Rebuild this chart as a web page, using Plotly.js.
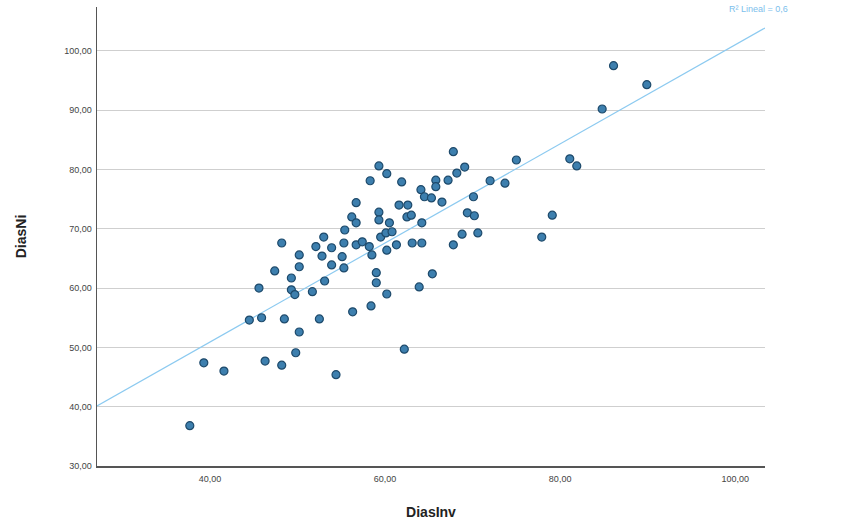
<!DOCTYPE html>
<html>
<head>
<meta charset="utf-8">
<script src="https://cdn.plot.ly/plotly-3.0.1.min.js"></script>
<style>html,body{margin:0;padding:0;background:#fff;}#chart{width:854px;height:523px;}</style>
</head>
<body>
<div id="chart"></div>
<script>
// DiasInv (x) and DiasNi (y) values
const diasInv = [37.7,39.3,41.6,44.5,45.9,46.3,48.2,49.8,50.2,48.5,52.5,54.4,45.6,47.4,48.2,49.3,49.3,49.7,51.7,50.2,
  50.2,52.1,52.8,53.1,53.0,53.9,53.9,55.1,55.3,55.3,55.4,56.2,56.7,56.7,57.4,56.7,56.3,58.4,58.2,58.5,
  59.0,59.0,58.3,59.3,60.2,61.9,59.3,59.3,60.5,59.5,60.1,60.8,61.3,60.2,60.2,61.6,62.6,62.5,63.0,64.2,
  63.1,64.2,64.1,64.5,65.3,66.5,65.8,65.8,67.2,68.2,69.1,67.8,70.1,69.4,70.2,68.8,70.6,67.8,65.4,63.9,
  62.2,72.0,73.7,75.0,79.1,77.9,81.1,81.9,84.8,86.1,89.9];
const diasNi = [36.8,47.4,46.0,54.6,55.0,47.7,47.0,49.1,52.6,54.8,54.8,45.4,60.0,62.9,67.6,61.7,59.7,58.9,59.4,65.6,
  63.6,67.0,65.4,61.2,68.6,66.8,63.9,65.3,63.4,67.6,69.8,72.0,71.0,67.3,67.8,74.4,56.0,57.0,67.0,65.6,
  62.6,60.9,78.1,80.6,79.3,77.9,72.8,71.5,71.0,68.6,69.3,69.5,67.3,66.4,59.0,74.0,74.0,72.0,72.3,71.0,
  67.6,67.6,76.6,75.4,75.2,74.5,78.2,77.1,78.2,79.4,80.4,83.0,75.4,72.7,72.2,69.1,69.3,67.3,62.4,60.2,
  49.7,78.1,77.7,81.6,72.3,68.6,81.8,80.6,90.2,97.5,94.3];

const yTickVals = [30,40,50,60,70,80,90,100];
const yTickText = ["30,00","40,00","50,00","60,00","70,00","80,00","90,00","100,00"];
const xTickVals = [40,60,80,100];
const xTickText = ["40,00","60,00","80,00","100,00"];
const xRange = [27.1, 103.4];
const yRange = [30, 107.4];

// least-squares fit line computed from the data
const n = diasInv.length;
const mx = diasInv.reduce((a,b)=>a+b,0)/n;
const my = diasNi.reduce((a,b)=>a+b,0)/n;
let sxy = 0, sxx = 0;
for (let i=0;i<n;i++){ sxy += (diasInv[i]-mx)*(diasNi[i]-my); sxx += (diasInv[i]-mx)**2; }
const slope = sxy/sxx, intercept = my - slope*mx;
const fitX = [xRange[0], xRange[1]];
const fitY = fitX.map(v => intercept + slope*v);

const traces = [
  {x: fitX, y: fitY, mode: 'lines', type: 'scatter', line: {color: '#8ccaf0', width: 1.2}, hoverinfo: 'skip', cliponaxis: false},
  {x: diasInv, y: diasNi, mode: 'markers', type: 'scatter',
   marker: {size: 8, color: '#3d7fae', line: {color: '#1e4a6b', width: 1.2}}}
];

const layout = {
  width: 854, height: 523,
  margin: {l: 97, r: 89, t: 7, b: 57},
  paper_bgcolor: '#fff', plot_bgcolor: '#fff',
  showlegend: false,
  font: {family: 'Liberation Sans, Arial, sans-serif', color: '#333'},
  xaxis: {range: xRange, tickvals: xTickVals, ticktext: xTickText, showgrid: false, zeroline: false, automargin: false,
    showline: true, linecolor: '#555', linewidth: 1.5, ticks: '', tickfont: {size: 9, color: '#444'}, ticklabelstandoff: 4,
    title: {text: 'DiasInv', font: {size: 14, color: '#222', weight: 'bold'}, standoff: 24}},
  yaxis: {range: yRange, tickvals: yTickVals, ticktext: yTickText, showgrid: true, gridcolor: '#cfcfcf', gridwidth: 1,
    zeroline: false, showline: true, linecolor: '#555', linewidth: 1.5, ticks: '', tickfont: {size: 9, color: '#444'},
    automargin: false, ticklabelstandoff: 2,
    title: {text: 'DiasNi', font: {size: 14, color: '#222', weight: 'bold'}, standoff: 34}},
  annotations: [
    {xref: 'paper', yref: 'paper', x: 1.0, y: 0.995, xanchor: 'left', yanchor: 'middle', showarrow: false,
     text: 'R² Lineal = 0,6', font: {size: 9, color: '#7cc0ec'}, xshift: -38}
  ]
};

Plotly.newPlot('chart', traces, layout, {displayModeBar: false, staticPlot: true});
</script>
</body>
</html>
